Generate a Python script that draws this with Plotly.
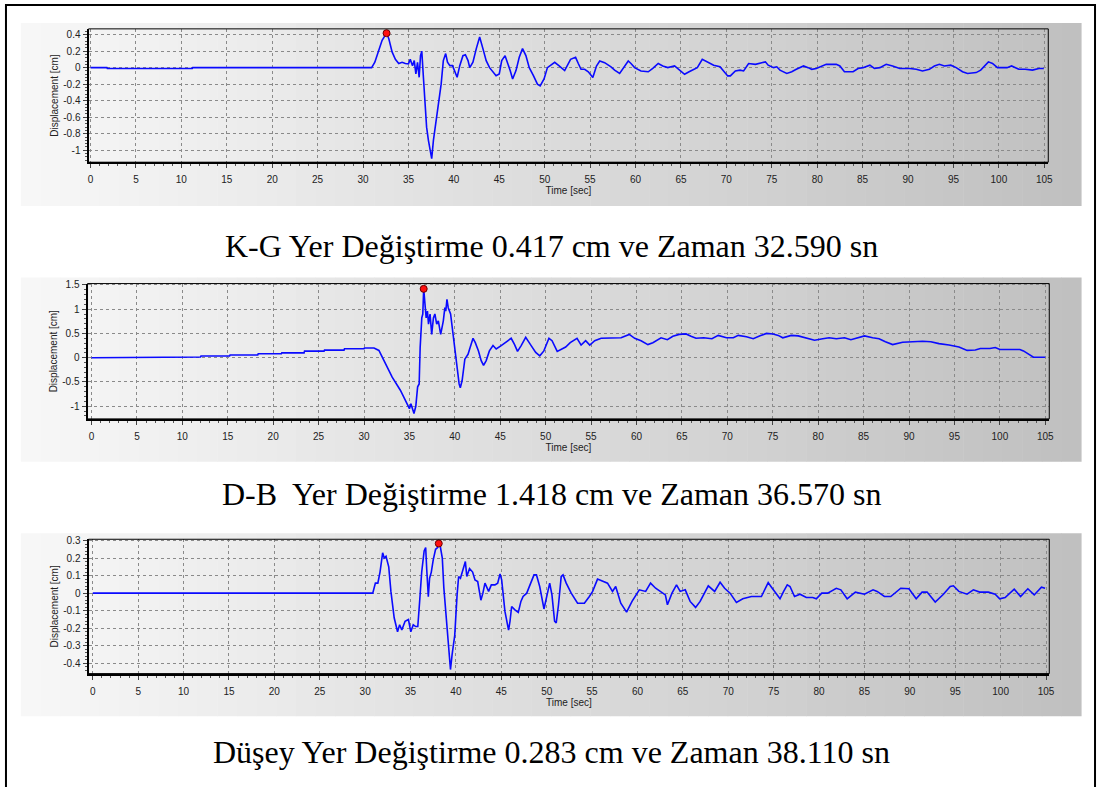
import plotly.graph_objects as go

W, H = 1103, 787

# ---------------- data ----------------
# K-G component: time [sec] / displacement [cm]
t_kg = [0, 1.8, 1.85, 11.2, 11.25, 30.95, 31.3, 31.75, 32.1, 32.59,
        32.84, 33.2, 33.56, 33.93, 34.3, 34.66, 35.0, 35.2, 35.45, 35.64,
        35.82, 36.0, 36.18, 36.33, 36.47, 36.65, 36.84, 37.0, 37.2, 37.4,
        37.56, 37.75, 38.0, 38.3, 38.6, 38.84, 39.1, 39.3, 39.56, 39.85,
        40.1, 40.36, 40.65, 41.0, 41.27, 41.56, 41.75, 42.1, 42.47, 42.84,
        43.2, 43.56, 43.93, 44.3, 44.65, 45.0, 45.27, 45.64, 45.9, 46.2,
        46.47, 46.84, 47.2, 47.56, 47.93, 48.3, 48.76, 49.2, 49.5, 49.93,
        50.3, 50.65, 51.1, 51.56, 52.2, 52.85, 53.4, 53.7, 54.0, 54.4,
        54.8, 55.3, 55.7, 56.06, 56.6, 57.3, 57.7, 58.25, 58.6, 59.2,
        59.5, 59.9, 60.6, 61.4, 61.9, 62.5, 63.0, 63.55, 64.3, 64.8,
        65.4, 65.9, 66.5, 66.8, 67.35, 67.9, 68.6, 69.3, 69.7, 70.15,
        70.44, 70.99, 71.5, 71.9, 72.45, 73.2, 73.9, 74.3, 74.6, 75.2,
        75.55, 75.9, 76.65, 77.2, 77.7, 78.5, 79.0, 79.4, 79.9, 80.5,
        81.0, 82.1, 82.5, 83.0, 83.95, 84.5, 85.05, 85.8, 86.3, 86.9,
        87.6, 88.3, 89.1, 90.2, 90.9, 91.6, 92.35, 92.9, 93.45, 94.0,
        94.7, 95.3, 96.0, 96.55, 97.5, 98.0, 98.4, 98.85, 99.3, 99.85,
        100.9, 101.4, 102.2, 102.9, 103.7, 104.4, 104.95]
d_kg = [0, 0, -0.01, -0.01, 0, 0, 0.065, 0.23, 0.33, 0.417,
        0.35, 0.19, 0.1, 0.05, 0.065, 0.05, 0.045, 0.1, 0.024, 0.085,
        -0.077, 0.065, -0.117, 0.145, 0.2, -0.12, -0.4, -0.72, -0.88, -1.0,
        -1.1, -0.88, -0.68, -0.44, -0.2, 0.085, 0.17, 0.065, 0.024, 0.024,
        -0.036, -0.117, 0.024, 0.145, 0.157, 0.085, 0.0, 0.065, 0.23, 0.37,
        0.23, 0.085, 0.0, -0.056, -0.097, -0.077, 0.085, 0.145, 0.065, -0.036,
        -0.137, -0.036, 0.125, 0.23, 0.145, 0.0, -0.097, -0.2, -0.22, -0.137,
        0.0, 0.024, 0.065, 0.024, -0.036, 0.1, 0.125, 0.05, -0.02, -0.02,
        -0.05, -0.12, 0.02, 0.08, 0.06, 0.01, -0.03, -0.07, -0.02, 0.08,
        0.05, 0.0, -0.04, -0.05, -0.01, 0.05, 0.02, 0.0, 0.02, -0.03,
        -0.08, -0.05, -0.02, 0.0, 0.1, 0.07, 0.03, 0.01, -0.04, -0.1,
        -0.1, -0.04, -0.03, -0.04, 0.05, 0.04, 0.06, 0.07, 0.03, 0.0,
        0.01, -0.03, -0.07, -0.05, -0.02, 0.02, 0.0, -0.02, -0.01, 0.02,
        0.04, 0.04, 0.02, -0.05, -0.05, -0.01, 0.0, 0.03, -0.01, 0.0,
        0.04, 0.02, -0.01, -0.01, -0.02, -0.04, -0.02, 0.02, 0.04, 0.02,
        0.03, 0.0, -0.05, -0.07, -0.06, -0.03, 0.02, 0.07, 0.05, 0.0,
        0.0, 0.02, -0.02, -0.02, -0.03, -0.01, -0.01]

# D-B component
t_db = [0, 6.3, 6.35, 12.0, 12.05, 15.2, 15.25, 18.3, 18.35, 20.9,
        20.95, 23.4, 23.45, 25.6, 25.65, 27.8, 27.85, 30.0, 30.05, 31.1,
        31.64, 32.18, 33.1, 34.0, 34.73, 35.0, 35.16, 35.3, 35.5, 35.7,
        35.9, 36.07, 36.18, 36.36, 36.47, 36.57, 36.73, 36.84, 36.98, 37.1,
        37.27, 37.45, 37.64, 37.8, 38.0, 38.18, 38.44, 38.73, 38.9, 39.0,
        39.13, 39.27, 39.53, 39.75, 40.0, 40.25, 40.47, 40.6, 40.8, 41.1,
        41.45, 41.75, 42.0, 42.25, 42.6, 42.9, 43.16, 43.45, 43.8, 44.2,
        44.55, 45.1, 45.6, 46.2, 46.55, 46.9, 47.3, 47.8, 48.4, 48.9,
        49.35, 49.8, 50.36, 50.7, 51.27, 51.6, 52.2, 52.7, 53.45, 53.9,
        54.4, 54.85, 55.4, 56.1, 56.9, 57.6, 58.3, 59.2, 59.8, 60.5,
        61.25, 61.8, 62.7, 63.4, 64.0, 64.7, 65.45, 66.0, 66.55, 67.4,
        68.3, 69.0, 69.9, 70.66, 71.2, 72.1, 72.85, 73.6, 74.3, 75.04,
        75.6, 76.1, 77.04, 77.8, 78.7, 79.6, 80.5, 81.2, 82.0, 82.9,
        83.6, 84.3, 85.1, 86.0, 86.7, 87.4, 88.2, 89.3, 90.7, 91.5,
        92.4, 93.3, 94.4, 95.5, 96.4, 97.3, 97.85, 98.9, 99.5, 100.0,
        100.9, 102.2, 102.6, 103.1, 103.7, 105.0]
d_db = [0, 0, 0.014, 0.014, 0.034, 0.034, 0.055, 0.055, 0.08, 0.08,
        0.1, 0.1, 0.136, 0.136, 0.157, 0.157, 0.184, 0.184, 0.2, 0.2,
        0.15, -0.06, -0.4, -0.67, -0.95, -1.05, -0.95, -1.05, -1.15, -1.0,
        -0.6, -0.54, 0.21, 0.82, 0.9, 1.418, 1.1, 0.82, 0.96, 0.69,
        0.9, 0.48, 0.82, 0.9, 0.69, 0.76, 0.48, 0.76, 1.03, 0.96,
        1.2, 1.03, 0.9, 0.55, 0.28, -0.2, -0.54, -0.62, -0.47, -0.03,
        0.07, 0.25, 0.4, 0.31, 0.14, -0.06, -0.16, -0.06, 0.14, 0.25,
        0.18, 0.25, 0.31, 0.4, 0.28, 0.13, 0.25, 0.42, 0.25, 0.11,
        0.04, 0.14, 0.4, 0.35, 0.13, 0.16, 0.22, 0.31, 0.4, 0.26,
        0.35, 0.26, 0.35, 0.4, 0.4, 0.41, 0.41, 0.48, 0.4, 0.35,
        0.27, 0.31, 0.41, 0.37, 0.44, 0.48, 0.49, 0.44, 0.4, 0.41,
        0.39, 0.46, 0.41, 0.41, 0.46, 0.43, 0.39, 0.45, 0.5, 0.49,
        0.46, 0.41, 0.46, 0.45, 0.41, 0.36, 0.39, 0.41, 0.39, 0.41,
        0.37, 0.41, 0.45, 0.41, 0.39, 0.33, 0.27, 0.32, 0.33, 0.34,
        0.33, 0.29, 0.26, 0.22, 0.15, 0.16, 0.19, 0.19, 0.21, 0.17,
        0.17, 0.17, 0.14, 0.08, 0.01, 0.01]

# vertical component
t_dz = [0, 30.84, 31.13, 31.4, 31.64, 31.93, 32.1, 32.3, 32.6, 32.84,
        33.2, 33.57, 33.8, 34.04, 34.4, 34.77, 35.03, 35.3, 35.57, 35.8,
        36.0, 36.23, 36.5, 36.67, 36.78, 36.96, 37.1, 37.29, 37.5, 37.76,
        37.98, 38.11, 38.3, 38.5, 38.67, 38.85, 39.1, 39.29, 39.4, 39.58,
        39.87, 40.13, 40.3, 40.5, 40.75, 41.04, 41.2, 41.5, 41.84, 42.1,
        42.4, 42.75, 42.97, 43.2, 43.6, 43.9, 44.3, 44.6, 44.86, 45.04,
        45.4, 45.8, 45.96, 46.14, 46.5, 46.87, 47.16, 47.4, 47.8, 48.14,
        48.6, 48.87, 49.23, 49.7, 50.0, 50.33, 50.58, 50.87, 51.05, 51.3,
        51.6, 51.8, 52.15, 52.7, 53.4, 54.15, 54.7, 55.06, 55.6, 56.2,
        56.7, 57.25, 57.6, 58.16, 58.8, 59.4, 60.2, 60.9, 61.44, 62.0,
        62.5, 63.07, 63.3, 63.8, 64.3, 64.7, 65.26, 65.8, 66.4, 66.9,
        67.8, 68.5, 69.1, 69.6, 70.2, 70.9, 71.6, 72.55, 73.65, 74.0,
        74.4, 74.7, 75.3, 75.7, 76.1, 76.5, 76.8, 77.3, 77.9, 78.6,
        79.3, 79.7, 80.3, 80.95, 81.9, 82.4, 83.1, 84.0, 85.0, 85.95,
        86.4, 87.2, 87.9, 88.4, 89.0, 89.9, 90.7, 91.35, 91.9, 92.8,
        93.7, 94.45, 94.8, 95.4, 96.3, 97.0, 97.7, 98.65, 99.4, 99.9,
        100.5, 101.5, 102.2, 103.0, 103.7, 104.5, 104.9]
d_dz = [0, 0, 0.057, 0.057, 0.12, 0.23, 0.2, 0.21, 0.15, 0.01,
        -0.14, -0.22, -0.18, -0.21, -0.16, -0.15, -0.22, -0.18, -0.19, -0.19,
        -0.05, 0.12, 0.24, 0.26, 0.14, -0.02, 0.085, 0.12, 0.19, 0.25,
        0.26, 0.283, 0.26, 0.2, 0.03, -0.095, -0.24, -0.37, -0.435, -0.35,
        -0.24, -0.01, 0.095, 0.085, 0.13, 0.18, 0.095, 0.14, 0.12, 0.075,
        0.066, -0.04, 0.0, 0.057, 0.01, 0.047, 0.047, 0.057, 0.11, 0.076,
        -0.104, -0.21, -0.16, -0.076, -0.095, -0.11, -0.047, -0.019, 0.0, 0.047,
        0.104, 0.104, 0.038, -0.09, -0.019, 0.057, -0.01, -0.16, -0.17, -0.066,
        0.095, 0.104, 0.057, 0.0, -0.057, -0.057, -0.019, 0.01, 0.08, 0.066,
        0.057, 0.01, 0.038, -0.057, -0.108, -0.047, 0.019, 0.01, 0.057, 0.028,
        0.01, -0.01, -0.066, 0.0, 0.047, 0.01, 0.019, -0.047, -0.081, -0.047,
        0.042, 0.01, 0.062, 0.028, 0.0, -0.053, -0.032, -0.019, -0.019, 0.019,
        0.06, 0.038, -0.006, -0.032, 0.01, 0.047, 0.038, -0.019, -0.006, -0.025,
        -0.025, -0.032, 0.0, 0.0, 0.028, 0.019, -0.032, 0.006, -0.006, 0.019,
        0.01, -0.019, -0.019, 0.0, 0.028, 0.025, -0.032, 0.006, 0.006, -0.051,
        -0.006, 0.038, 0.042, 0.01, -0.006, 0.019, 0.006, 0.006, -0.006, -0.032,
        -0.025, 0.023, -0.019, 0.025, -0.01, 0.034, 0.028]

# peak values (red dots)
peak_t = [32.59, 36.57, 38.11]
peak_d = [0.417, 1.418, 0.283]

yticks_kg = [0.4, 0.2, 0, -0.2, -0.4, -0.6, -0.8, -1]
yticks_db = [1.5, 1, 0.5, 0, -0.5, -1]
yticks_dz = [0.3, 0.2, 0.1, 0, -0.1, -0.2, -0.3, -0.4]

captions = ["K-G Yer Değiştirme 0.417 cm ve Zaman 32.590 sn",
            "D-B\u00a0 Yer Değiştirme 1.418 cm ve Zaman 36.570 sn",
            "Düşey Yer Değiştirme 0.283 cm ve Zaman 38.110 sn"]

assert len(t_kg) == len(d_kg) and len(t_db) == len(d_db) and len(t_dz) == len(d_dz)


def px(x):
    return x / W


def py(y):
    return 1 - y / H


# panel layout in pixels: gray box, plot box, axis ranges, caption centre
panels = [
    dict(t=t_kg, d=d_kg, yt=yticks_kg, ydt=0.04, box=(19, 203), plot=(88, 1053, 25, 159),
         xr=[-0.22, 105.44], yr=[-1.144, 0.469], cap=243),
    dict(t=t_db, d=d_db, yt=yticks_db, ydt=0.1, box=(275, 460), plot=(87, 1054, 281, 417),
         xr=[-0.44, 105.44], yr=[-1.26, 1.527], cap=493),
    dict(t=t_dz, d=d_dz, yt=yticks_dz, ydt=0.02, box=(532, 716), plot=(88, 1054, 538, 673),
         xr=[-0.47, 105.36], yr=[-0.458, 0.307], cap=752),
]

fig = go.Figure()
shapes = []
annotations = []
tickfont = dict(family="Liberation Sans, Arial", size=10, color="#222")

for i, p in enumerate(panels):
    n = "" if i == 0 else str(i + 1)
    xa, ya = "x" + n, "y" + n

    # horizontal gray gradient behind each chart
    x_left, x_right, steps = 20, 1086, 54
    for k in range(steps):
        c = int(round(247 - (247 - 192) * k / (steps - 1)))
        shapes.append(dict(type="rect", xref="paper", yref="paper", layer="below",
                           x0=px(x_left + (x_right - x_left) * k / steps),
                           x1=px(x_left + (x_right - x_left) * (k + 1) / steps + 0.5),
                           y0=py(p["box"][1]), y1=py(p["box"][0]),
                           line=dict(width=0), fillcolor=f"rgb({c},{c},{c})"))

    x0, x1, y0, y1 = p["plot"]
    fig.add_trace(go.Scatter(x=p["t"], y=p["d"], mode="lines", xaxis=xa, yaxis=ya,
                             line=dict(color="#0a0aff", width=1.6), showlegend=False,
                             hoverinfo="skip"))
    fig.add_trace(go.Scatter(x=[peak_t[i]], y=[peak_d[i]], mode="markers", xaxis=xa, yaxis=ya,
                             marker=dict(size=7, color="#ff1010", line=dict(color="#6a0000", width=1)),
                             cliponaxis=False, showlegend=False, hoverinfo="skip"))

    fig.layout["xaxis" + n] = dict(
        domain=[px(x0), px(x1)], range=p["xr"], anchor=ya,
        tickmode="linear", tick0=0, dtick=5, ticks="outside", ticklen=4, tickcolor="#444",
        showline=True, linewidth=2, linecolor="black", zeroline=False,
        showgrid=True, gridcolor="#8a8a8a", griddash="dot", gridwidth=1,
        minor=dict(tickmode="linear", tick0=0, dtick=1, ticks="outside", ticklen=2,
                   tickcolor="#555", showgrid=False),
        tickfont=tickfont, ticklabelstandoff=3,
        title=dict(text="Time [sec]", font=dict(family="Liberation Sans, Arial", size=10,
                                                 color="#222"), standoff=2))
    fig.layout["yaxis" + n] = dict(
        domain=[py(y1), py(y0)], range=p["yr"], anchor=xa,
        tickmode="array", tickvals=p["yt"], ticktext=[f"{v:g}" for v in p["yt"]],
        ticks="outside", ticklen=4, tickcolor="#444",
        showline=True, linewidth=2, linecolor="black", zeroline=False,
        showgrid=True, gridcolor="#8a8a8a", griddash="dot", gridwidth=1,
        minor=dict(tickmode="linear", tick0=0, dtick=p["ydt"], ticks="outside", ticklen=2,
                   tickcolor="#555", showgrid=False),
        tickfont=tickfont,
        title=dict(text="Displacement [cm]", font=dict(family="Liberation Sans, Arial", size=10,
                                                        color="#222"), standoff=3))

    # thin frame on the top/right of the plot area
    shapes.append(dict(type="rect", xref=xa + " domain", yref=ya + " domain",
                       x0=0, x1=1, y0=0, y1=1, line=dict(color="black", width=1)))

    annotations.append(dict(text=captions[i], xref="paper", yref="paper", x=px(554), y=py(p["cap"]),
                            showarrow=False, xanchor="center", yanchor="middle",
                            font=dict(family="Liberation Serif, Times New Roman", size=32,
                                      color="black")))

# outer page frame (bottom edge runs off the page)
shapes.append(dict(type="rect", xref="paper", yref="paper", x0=px(5), x1=px(1100),
                   y0=py(792), y1=py(1), line=dict(color="black", width=2)))

fig.update_layout(width=W, height=H, margin=dict(l=0, r=0, t=0, b=0),
                  paper_bgcolor="white", plot_bgcolor="rgba(0,0,0,0)",
                  shapes=shapes, annotations=annotations, showlegend=False)

# drop the default page margin so the figure sits at the window's top-left corner
fig.write_html("out.html", config={"displayModeBar": False},
               post_script="document.body.style.margin='0px';")
